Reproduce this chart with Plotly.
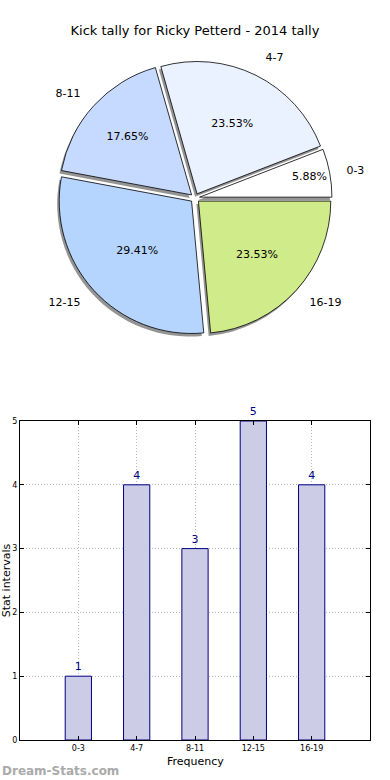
import plotly.graph_objects as go

categories = ["0-3", "4-7", "8-11", "12-15", "16-19"]
counts = [1, 4, 3, 5, 4]
pie_colors = ["#FFFFFF", "#EAF1FF", "#C6D9FF", "#B5D5FF", "#D0EB8A"]
y_ticks = [0, 1, 2, 3, 4, 5]

FONT = "DejaVu Sans"
W, H = 390, 780

def px_y(p):
    return 1 - p / H

# first slice should start at 3 o'clock and run counterclockwise
first_frac = counts[0] / sum(counts)
rotation = 90 - 360 * first_frac

CX = 195
CY = 198
R = 137
pie_dom_y = [px_y(CY + R), px_y(CY - R)]
pie_dom_x = [(CX - R) / W, (CX + R) / W]
RL = R * 1.1
lab_dom_y = [px_y(CY + RL), px_y(CY - RL)]
lab_dom_x = [(CX - RL) / W, (CX + RL) / W]
pull = [0.035] * len(categories)

fig = go.Figure()

# shadow
fig.add_trace(go.Pie(
    labels=categories, values=counts, sort=False, direction="counterclockwise",
    rotation=rotation, pull=pull,
    marker=dict(colors=["rgba(90,90,90,0.65)"] * 5, line=dict(width=0)),
    textinfo="none", hoverinfo="skip", showlegend=False,
    domain=dict(x=[pie_dom_x[0] - 2 / W, pie_dom_x[1] - 2 / W],
                y=[pie_dom_y[0] - 3 / H, pie_dom_y[1] - 3 / H]),
))
# main pie with percentages
fig.add_trace(go.Pie(
    labels=categories, values=counts, sort=False, direction="counterclockwise",
    rotation=rotation, pull=pull,
    marker=dict(colors=pie_colors, line=dict(color="black", width=0.8)),
    texttemplate="%{percent:.2%}", textposition="inside",
    insidetextorientation="horizontal",
    textfont=dict(family=FONT, size=11, color="black"),
    showlegend=False,
    domain=dict(x=pie_dom_x, y=pie_dom_y),
))
# outside labels (transparent, slightly larger pie)
fig.add_trace(go.Pie(
    labels=categories, values=counts, sort=False, direction="counterclockwise",
    rotation=rotation, pull=pull,
    marker=dict(colors=["rgba(0,0,0,0)"] * 5, line=dict(width=0)),
    texttemplate="%{label}", textposition="outside",
    textfont=dict(family=FONT, size=11, color="black"),
    hoverinfo="skip", showlegend=False,
    domain=dict(x=lab_dom_x, y=lab_dom_y),
))

fig.add_trace(go.Bar(
    x=categories, y=counts, width=0.45,
    marker=dict(color="#CCCCE6", line=dict(color="#000080", width=1)),
    text=[str(c) for c in counts], textposition="outside", cliponaxis=False,
    textfont=dict(family=FONT, size=11, color="#000080"),
    showlegend=False, xaxis="x", yaxis="y",
))

grid_style = dict(showgrid=True, gridcolor="#b8b8b8", griddash="1px,2px", gridwidth=1)

fig.update_layout(
    width=W, height=H,
    margin=dict(l=0, r=0, t=0, b=0),
    paper_bgcolor="white", plot_bgcolor="white",
    font=dict(family=FONT, size=11, color="black"),
    title=dict(text="Kick tally for Ricky Petterd - 2014 tally",
               x=0.5, xanchor="center", xref="paper", y=px_y(30), yanchor="middle",
               font=dict(family=FONT, size=13, color="black")),
    uniformtext=dict(minsize=11, mode="show"),
    xaxis=dict(domain=[20 / W, 370 / W], range=[-1, 5], type="category",
               **grid_style,
               showline=True, linecolor="black", linewidth=1, mirror="allticks",
               ticks="inside", ticklen=4, tickcolor="black",
               tickfont=dict(family=FONT, size=8, color="black"),
               automargin=False, zeroline=False, fixedrange=True),
    yaxis=dict(domain=[px_y(740), px_y(421)], range=[0, 5],
               tickvals=y_ticks,
               **grid_style,
               showline=True, linecolor="black", linewidth=1, mirror="allticks",
               ticks="inside", ticklen=4, tickcolor="black",
               tickfont=dict(family=FONT, size=8, color="black"),
               title=dict(text="Stat intervals",
                          font=dict(family=FONT, size=11, color="black")),
               automargin=False, zeroline=False, fixedrange=True),
    annotations=[
        dict(text="Frequency", x=0.5, y=px_y(761), xref="paper", yref="paper",
             xanchor="center", yanchor="middle", showarrow=False,
             font=dict(family=FONT, size=11, color="black")),
        dict(text="<b>Dream-Stats.com</b>", x=0, y=px_y(771),
             xref="paper", yref="paper", xanchor="left", yanchor="middle",
             showarrow=False,
             font=dict(family=FONT, size=12, color="#aaaaaa")),
    ],
)

fig.write_html("out.html", config={"displayModeBar": False},
               post_script="document.body.style.margin='0';document.body.style.overflow='hidden';")
